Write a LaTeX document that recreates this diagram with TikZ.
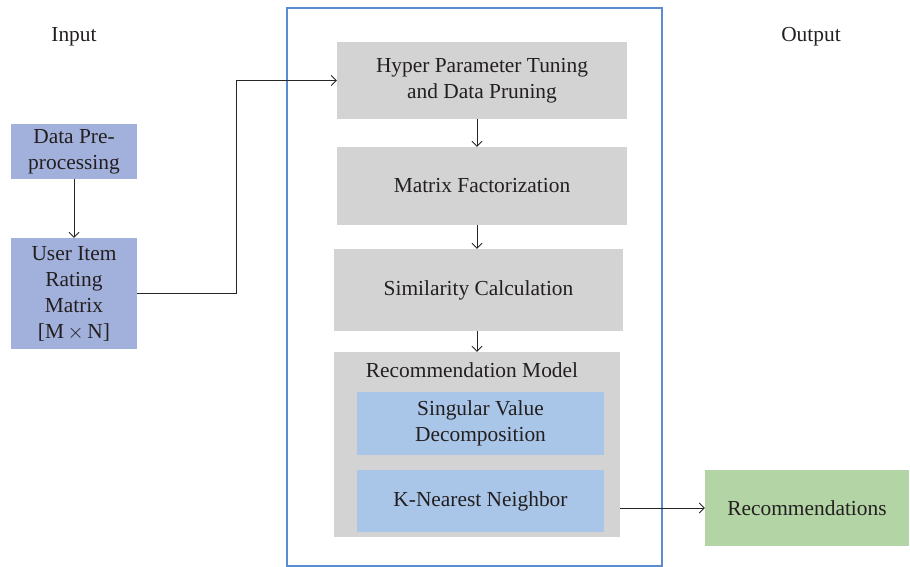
\documentclass[tikz,border=0pt]{standalone}
\usepackage{fontspec}
\setmainfont{Liberation Serif}
\usetikzlibrary{arrows.meta}
\definecolor{pblue}{HTML}{A2B1DC}
\definecolor{lblue}{HTML}{A9C6E8}
\definecolor{pgray}{HTML}{D3D3D3}
\definecolor{pgreen}{HTML}{B3D5A5}
\definecolor{frameblue}{HTML}{5B8BD0}
\definecolor{txt}{HTML}{231F20}
\begin{document}
\begin{tikzpicture}[x=1pt,y=-1pt,
  every node/.style={font=\fontsize{21.4}{26}\selectfont, text=txt},
  box/.style={inner sep=0pt, align=center, draw=none},
  conn/.style={draw=black!85, line width=0.9pt},
  arr/.style={conn, -{Straight Barb[length=5pt,width=10pt]}}]
\useasboundingbox (0,0) rectangle (910,567);
% frame
\node[draw=frameblue, line width=1.3pt, minimum width=375pt, minimum height=558pt, inner sep=0pt] (frame) at (474.5,287) {};
% labels
\node (input) at (74,37) {Input};
\node (output) at (811,37) {Output};
% left boxes
\node[box, fill=pblue, minimum width=126pt, minimum height=55pt] (pre) at (74,151.5) {Data Pre-\\processing};
\node[box, fill=pblue, minimum width=126pt, minimum height=111pt] (uim) at (74,293.5) {User Item\\Rating\\Matrix\\{[}M\,$\times$\,N{]}};
% center stack
\node[box, fill=pgray, minimum width=290pt, minimum height=77pt] (hp) at (482,80.5) {Hyper Parameter Tuning\\and Data Pruning};
\node[box, fill=pgray, minimum width=290pt, minimum height=78pt] (mf) at (482,186) {Matrix Factorization};
\node[box, fill=pgray, minimum width=289pt, minimum height=82pt] (sc) at (478.5,290) {Similarity Calculation};
\node[box, fill=pgray, minimum width=286pt, minimum height=185pt] (rm) at (477,444.5) {};
\node[box] (rmlabel) at (472,370) {Recommendation Model};
\node[box, fill=lblue, minimum width=247pt, minimum height=63pt] (svd) at (480.5,423.5) {Singular Value\\Decomposition};
\node[box, fill=lblue, minimum width=247pt, minimum height=62pt] (knn) at (480.5,501) {K-Nearest Neighbor};
\node[box, fill=pgreen, minimum width=204pt, minimum height=76pt] (rec) at (807,508) {Recommendations};
% connectors
\draw[arr] (pre.south) -- (uim.north);
\draw[arr] (uim.east) -- ++(99,0) |- (hp.west);
\draw[arr] (hp.south -| rm.north) -- (mf.north -| rm.north);
\draw[arr] (mf.south -| rm.north) -- (sc.north -| rm.north);
\draw[arr] (sc.south -| rm.north) -- (rm.north);
\draw[arr] (rm.east |- rec.west) -- (rec.west);
\end{tikzpicture}
\end{document}
